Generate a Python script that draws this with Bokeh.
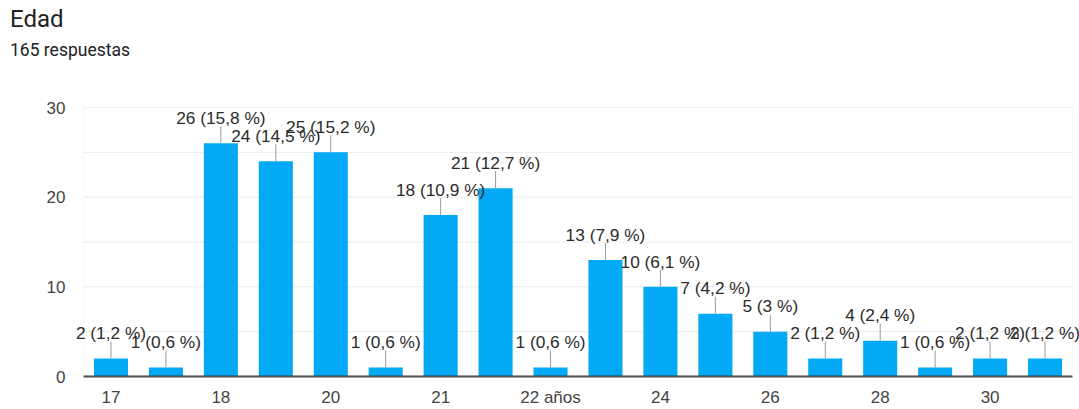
from bokeh.plotting import figure
from bokeh.layouts import column
from bokeh.models import (ColumnDataSource, Range1d, LabelSet, FixedTicker,
                          SingleIntervalTicker, Div, BoxAnnotation)
from bokeh.core.properties import value
from bokeh.embed import file_html
from bokeh.resources import INLINE

# ---- data ----
title_text = "Edad"
subtitle_text = "165 respuestas"
categories = ["17", "17 años", "18", "19", "20", "20 años", "21", "22", "22 años",
              "23", "24", "25", "26", "27", "28", "29", "30", "31"]
counts = [2, 1, 26, 24, 25, 1, 18, 21, 1, 13, 10, 7, 5, 2, 4, 1, 2, 2]
shown_tick_labels = ["17", "18", "20", "21", "22 años", "24", "26", "28", "30"]
y_max = 30
y_grid_step = 5

total = sum(counts)


def fmt_pct(c):
    p = round(100.0 * c / total, 1)
    s = ("%.1f" % p).replace(".", ",")
    if s.endswith(",0"):
        s = s[:-2]
    return "%d (%s %%)" % (c, s)


n = len(categories)
xs = list(range(n))
labels = [fmt_pct(c) for c in counts]
lead = 1.9  # leader length in data units
src = ColumnDataSource(dict(
    x=xs, top=counts, lab=labels,
    ly=[c + lead for c in counts], ty=[c + lead + 0.25 for c in counts],
))

# ---- layout geometry (pixels) ----
FIG_W = 1079
BORDER_L = 70           # frame starts a little left of the visible chart box
BORDER_R = 0
PAD_L, PAD_R = 13, 7    # extra frame room left/right of the chart box
frame_w = FIG_W - BORDER_L - BORDER_R
step = (frame_w - PAD_L - PAD_R) / n
x_lo = -0.5 - PAD_L / step
x_hi = n - 0.5 + PAD_R / step

header = Div(
    text=('<div style="font-family:Roboto;font-size:24px;line-height:28px;'
          'color:#202124;margin:5px 0 0 10px;white-space:nowrap">%s</div>'
          '<div style="font-family:Roboto;font-size:17.5px;line-height:21px;'
          'color:#202124;margin:7px 0 0 10px;white-space:nowrap">%s</div>')
    % (title_text, subtitle_text),
    width=FIG_W, height=70, styles={"margin": "0", "padding": "0"})

p = figure(width=FIG_W, height=339, output_backend="svg", toolbar_location=None,
           x_range=Range1d(x_lo, x_hi), y_range=Range1d(0, y_max),
           min_border_left=BORDER_L, min_border_right=BORDER_R,
           min_border_top=37, min_border_bottom=33)
p.background_fill_color = "white"
p.border_fill_color = "white"
p.outline_line_color = None
p.xgrid.grid_line_color = None
p.ygrid.grid_line_color = None

# light grid limited to the chart box
gy = list(range(y_grid_step, y_max + 1, y_grid_step))
p.segment(x0=[-0.5] * len(gy), x1=[n - 0.5] * len(gy), y0=gy, y1=gy,
          line_color="#ebebeb", line_width=1)
p.add_layout(BoxAnnotation(left=-0.5, right=n - 0.5, bottom=0, top=y_max,
                           fill_alpha=0, line_color="#e6e6e6", line_width=1))

p.vbar(x="x", top="top", width=0.62, source=src, color="#03a9f4", line_color=None)
p.segment(x0="x", y0="top", x1="x", y1="ly", source=src, line_color="#9a9a9a",
          line_width=1)

ls = LabelSet(x="x", y="ty", text="lab", source=src, text_align="center",
              text_baseline="alphabetic", text_font=value("Liberation Sans"),
              text_font_size=value("17.3px"), text_color="#2b2b2b")
p.add_layout(ls)

# y axis
yt = SingleIntervalTicker(interval=10, num_minor_ticks=2)
p.yaxis.ticker = yt
p.yaxis.axis_line_color = None
p.yaxis.major_tick_line_color = None
p.yaxis.minor_tick_line_color = None
p.yaxis.major_tick_out = 0
p.yaxis.major_tick_in = 0
p.yaxis.minor_tick_out = 0
p.yaxis.major_label_standoff = 5
p.yaxis.major_label_text_font = "Liberation Sans"
p.yaxis.major_label_text_font_size = "17px"
p.yaxis.major_label_text_color = "#444444"

# x axis
shown_idx = [i for i, c in enumerate(categories) if c in shown_tick_labels]
p.xaxis.ticker = FixedTicker(ticks=shown_idx)
p.xaxis.major_label_overrides = {i: categories[i] for i in shown_idx}
p.xaxis.bounds = (-0.5, n - 0.5)
p.xaxis.axis_line_color = "#3c3c3c"
p.xaxis.axis_line_width = 2
p.xaxis.major_tick_line_color = None
p.xaxis.minor_tick_line_color = None
p.xaxis.major_tick_out = 0
p.xaxis.major_tick_in = 0
p.xaxis.minor_tick_out = 0
p.xaxis.major_label_standoff = 11
p.xaxis.major_label_text_font = "Liberation Sans"
p.xaxis.major_label_text_font_size = "17px"
p.xaxis.major_label_text_color = "#444444"

layout = column(header, p, spacing=0)
open("out.html", "w").write(file_html(layout, INLINE))
